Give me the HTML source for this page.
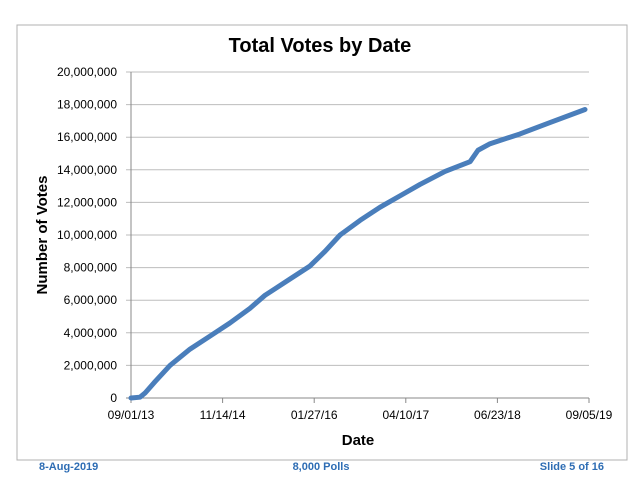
<!DOCTYPE html>
<html><head><meta charset="utf-8"><style>
body{margin:0;background:#fff;}
svg{display:block;font-family:"Liberation Sans",sans-serif;}
</style></head><body>
<svg width="640" height="480" id="chart">
<rect x="17" y="25" width="610" height="435" fill="#fff" stroke="#b0b0b0" stroke-width="1"/>
<text x="320" y="52" text-anchor="middle" font-size="20" font-weight="bold">Total Votes by Date</text>
<g id="grid"></g><g id="yticks"></g><g id="xticks"></g><g id="series"></g>
<text x="358" y="445" text-anchor="middle" font-size="15" font-weight="bold">Date</text>
<text transform="translate(47,235) rotate(-90)" text-anchor="middle" font-size="15" font-weight="bold">Number of Votes</text>
<text x="39" y="470" font-size="11" font-weight="bold" fill="#2e6db4">8-Aug-2019</text>
<text x="321" y="470" text-anchor="middle" font-size="11" font-weight="bold" fill="#2e6db4">8,000 Polls</text>
<text x="604" y="470" text-anchor="end" font-size="11" font-weight="bold" fill="#2e6db4">Slide 5 of 16</text>
</svg>
<script>
const xTickLabels=["09/01/13","11/14/14","01/27/16","04/10/17","06/23/18","09/05/19"];
const yTickValues=[0,2000000,4000000,6000000,8000000,10000000,12000000,14000000,16000000,18000000,20000000];
const dayOffsets=[0,43,67,115,187,283,379,474,570,642,690,762,858,930,1002,1098,1193,1289,1385,1505,1625,1663,1721,1864,2008,2176];
const votes=[0,50000,300000,1000000,2000000,3000000,3800000,4600000,5500000,6300000,6700000,7300000,8100000,9000000,10000000,10900000,11700000,12400000,13100000,13900000,14500000,15200000,15600000,16200000,16900000,17700000];
const NS="http://www.w3.org/2000/svg";
const X0=131,X1=589,Y0=398,Y1=72,DMAX=2195,VMAX=20000000;
function xs(d){return X0+(X1-X0)*d/DMAX;}
function ys(v){return Y0-(Y0-Y1)*v/VMAX;}
function mk(tag,attrs,parent){const e=document.createElementNS(NS,tag);for(const k in attrs)e.setAttribute(k,attrs[k]);parent.appendChild(e);return e;}
const grid=document.getElementById('grid'),yt=document.getElementById('yticks'),xt=document.getElementById('xticks'),ser=document.getElementById('series');
yTickValues.forEach(v=>{
 const l=mk('line',{x1:X0-5,x2:X1,y1:ys(v),y2:ys(v),stroke:v===0?'#888':'#bdbdbd','stroke-width':1},grid);
 
 
 const t=mk('text',{x:117,y:ys(v)+4,'text-anchor':'end','font-size':12},yt);
 t.textContent=v.toLocaleString('en-US');
 
 
});
const ax=mk('line',{x1:X0,x2:X0,y1:Y1,y2:Y0+5,stroke:'#888','stroke-width':1},grid);


xTickLabels.forEach((s,i)=>{
 const x=xs(i*DMAX/(xTickLabels.length-1));
 const l=mk('line',{x1:x,x2:x,y1:Y0,y2:Y0+5,stroke:'#888'},xt);
 
 
 const t=mk('text',{x:x,y:Y0+21,'text-anchor':'middle','font-size':12},xt);
 t.textContent=s;
 
 
});
const p=mk('polyline',{points:dayOffsets.map((d,i)=>xs(d)+','+ys(votes[i])).join(' '),fill:'none',stroke:'#4a7ebb','stroke-width':5,'stroke-linejoin':'round','stroke-linecap':'round'},ser);


</script>
</body></html>
